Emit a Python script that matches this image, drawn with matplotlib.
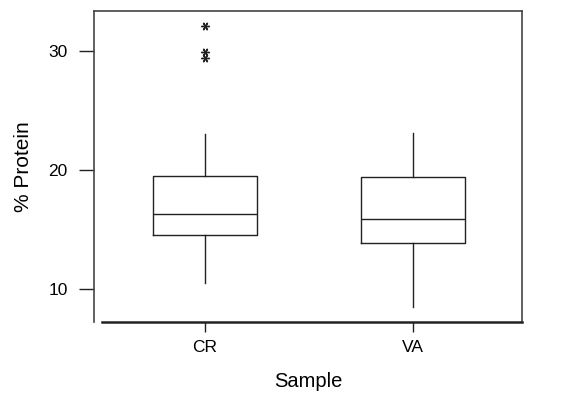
import matplotlib.pyplot as plt

# dados
samples = ["CR", "VA"]
q1 = [14.5, 13.9]
med = [16.3, 15.9]
q3 = [19.5, 19.4]
whislo = [10.5, 8.5]
whishi = [23.0, 23.1]
fliers = [[32.1, 29.9, 29.4], []]

plt.rcParams['font.family'] = ['Liberation Sans', 'DejaVu Sans']

stats = []
for i in range(len(samples)):
    stats.append({"label": samples[i], "q1": q1[i], "med": med[i], "q3": q3[i],
                  "whislo": whislo[i], "whishi": whishi[i], "fliers": fliers[i]})

fig = plt.figure(figsize=(5.61, 3.94), dpi=100)
ax = fig.add_axes([0.168, 0.1835, 0.762, 0.7895])

lc = "#222222"
ax.bxp(stats, positions=[1, 2], widths=0.5, showcaps=False,
       boxprops=dict(color=lc, linewidth=1.0),
       whiskerprops=dict(color=lc, linewidth=1.0),
       medianprops=dict(color=lc, linewidth=1.0),
       flierprops=dict(marker=(6, 2, 90), markersize=6, markeredgecolor=lc,
                       markeredgewidth=1.0, linestyle="none"))

ax.set_xlim(0.467, 2.525)
ax.set_ylim(7.26, 33.35)
ax.set_yticks([10, 20, 30])
ax.set_xticks([1, 2])
ax.set_xticklabels(samples)

for s in ["left", "top", "right"]:
    ax.spines[s].set_linewidth(1.2)
    ax.spines[s].set_color("#444444")
ax.spines["bottom"].set_linewidth(1.8)
ax.spines["bottom"].set_color("#222222")
ax.spines["bottom"].set_bounds(0.503, 2.525)

ax.tick_params(axis="y", length=11, width=1.0, pad=8, labelsize=12.5, color=lc)
ax.tick_params(axis="x", length=7.5, width=1.0, pad=6, labelsize=12.5, color=lc)

ax.set_xlabel("Sample", fontsize=14.5, labelpad=12)
ax.set_ylabel("% Protein", fontsize=15, labelpad=11)

plt.savefig("out.png", dpi=100)
